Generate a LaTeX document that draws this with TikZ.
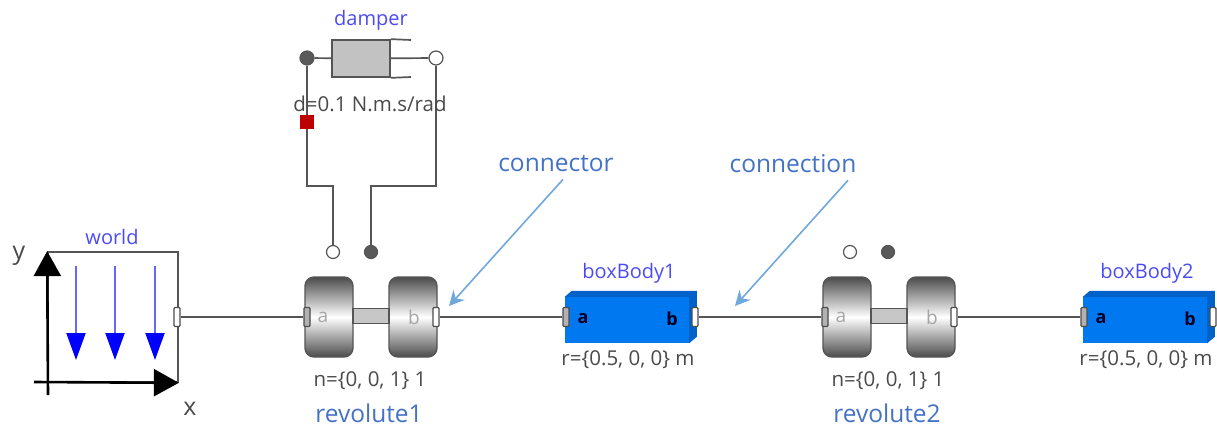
\documentclass[tikz,border=0pt]{standalone}
\usepackage{fontspec}
\setmainfont{Open Sans}
\usetikzlibrary{arrows.meta}
\definecolor{wiregray}{HTML}{555555}
\definecolor{wheelgray}{HTML}{4C4C4C}
\definecolor{namepurple}{HTML}{4B4BF5}
\definecolor{noteblue}{HTML}{4472C4}
\definecolor{calloutblue}{HTML}{6FA8DC}
\definecolor{paramgray}{HTML}{4A4A4A}
\definecolor{bodyblue}{HTML}{0078F0}
\definecolor{bodydark}{HTML}{0062C8}
\tikzstyle{wire} = [draw=wiregray, line width=1.7pt]
\tikzstyle{axis} = [black, line width=2.6pt, -{Triangle[length=25pt,width=27pt]}]
\tikzstyle{gravity} = [namepurple!85!white, line width=2pt, -{Triangle[length=27pt,width=19pt,color=blue,fill=blue]}]
\tikzstyle{callout} = [calloutblue, line width=1.6pt, -{Stealth[length=15pt,width=15pt]}]
\tikzstyle{wheel} = [rectangle, rounded corners=9pt, minimum width=48pt, minimum height=80pt, inner sep=0pt,
draw=wiregray, line width=1.4pt,
top color=wheelgray, bottom color=wheelgray, middle color=white]
\tikzstyle{shaft} = [rectangle, minimum width=36pt, minimum height=15pt, inner sep=0pt,
draw=wiregray, line width=1.4pt, fill=black!22]
\tikzstyle{porta} = [rectangle, rounded corners=1pt, minimum width=6pt, minimum height=19pt, inner sep=0pt,
draw=black!70, line width=1.2pt, fill=black!30]
\tikzstyle{portb} = [porta, fill=white]
\tikzstyle{pinfilled} = [circle, minimum size=13pt, inner sep=0pt, draw=wiregray, line width=1.2pt, fill=black!65]
\tikzstyle{pinopen} = [pinfilled, fill=white]
\tikzstyle{boxbody} = [rectangle, minimum width=124pt, minimum height=46pt, inner sep=0pt, fill=bodyblue]
\tikzstyle{boxshade} = [fill=bodydark]
\tikzstyle{instname} = [namepurple, font=\fontsize{20}{22}\selectfont, inner sep=1pt]
\tikzstyle{param} = [paramgray, font=\fontsize{20.5}{22}\selectfont, inner sep=1pt]
\tikzstyle{note} = [noteblue, font=\fontsize{24.5}{27}\selectfont, inner sep=1pt]
\tikzstyle{letter} = [black!35, font=\fontsize{19}{22}\selectfont, inner sep=0pt]
\tikzstyle{bodyletter} = [letter, black!85!blue, font=\fontsize{18}{22}\selectfont\bfseries]
\begin{document}
\begin{tikzpicture}[x=1pt, y=-1pt, node distance=129pt]
        \useasboundingbox (0,0) rectangle (1217,428);
        % world
        \node (worldbox) [rectangle, wire, minimum width=130pt, minimum height=130pt, inner sep=0pt] at (113,317) {};
        \node (worldname) [instname] at (112,237) {world};
        \coordinate (yfoot) at (48,395);
        \coordinate (xfoot) at (34,382);
        \draw [axis] (yfoot) -- (worldbox.north west);
        \draw [axis] (xfoot) -- (worldbox.south east);
        \node (ylabel) [paramgray, font=\fontsize{25}{27}\selectfont, inner sep=0pt] at (19,256) {y};
        \node (xlabel) [paramgray, font=\fontsize{25}{27}\selectfont, inner sep=0pt] at (190,409) {x};
        \coordinate (gtopa) at (76,266);
        \coordinate (genda) at (76,360);
        \coordinate (gtopb) at (115,266);
        \coordinate (gendb) at (115,360);
        \coordinate (gtopc) at (155,266);
        \coordinate (gendc) at (155,360);
        \draw [gravity] (gtopa) -- (genda);
        \draw [gravity] (gtopb) -- (gendb);
        \draw [gravity] (gtopc) -- (gendc);
        \node (worldport) [portb] at (177,317) {};
        % revolute1
        \node (wheela) [wheel] at (329,317) {};
        \node (wheelb) [wheel, right of=wheela, xshift=-45pt] {};
        \node (shafta) [shaft] at (371,316) {};
        \node (porta) [porta] at (307,317) {};
        \node (portb) [portb, right of=porta] {};
        \node (lettera) [letter] at (323,317) {a};
        \node (letterb) [letter] at (414,317) {b};
        \node (nparama) [param] at (370,381) {n=\{0, 0, 1\} 1};
        \node (revolutea) [note] at (369,413) {revolute1};
        \node (pinopena) [pinopen] at (333,252) {};
        \node (pinfilleda) [pinfilled] at (371,252) {};
        % damper
        \node (cylinder) [rectangle, wire, fill=black!24, minimum width=58pt, minimum height=37pt, inner sep=0pt] at (361,58.5) {};
        \node (dampername) [instname] at (371,20) {damper};
        \node (flangea) [pinfilled, minimum size=14pt] at (307,58) {};
        \node (flangeb) [pinopen, minimum size=14pt] at (436,58) {};
        \coordinate (rimtop) at (411,40);
        \coordinate (rimbot) at (411,77);
        \coordinate (elbowa) at (333,186);
        \coordinate (elbowb) at (371,186);
        \draw [wire] (flangea) -- (cylinder);
        \draw [wire] (cylinder) -- (flangeb);
        \draw [wire] (cylinder.north east) -- (rimtop);
        \draw [wire] (cylinder.south east) -- (rimbot);
        \draw [wire] (flangea) |- (elbowa) -- (pinopena);
        \draw [wire] (flangeb) |- (elbowb) -- (pinfilleda);
        \node (dparam) [param] at (370,104) {d=0.1 N.m.s/rad};
        \node (fixedmark) [rectangle, minimum size=14pt, inner sep=0pt, fill=red!75!black] at (307,122) {};
        % boxBody1
        \node (bodya) [boxbody] at (627,320) {};
        \fill [boxshade] (bodya.north west) -- ++(7,-6) -- ++(125,0) -- ++(0,46) -- (bodya.south east) -- (bodya.north east) -- cycle;
        \node (bodyporta) [porta] at (566,317) {};
        \node (bodyportb) [portb, right of=bodyporta] {};
        \node (bodylettera) [bodyletter] at (583,319) {a};
        \node (bodyletterb) [bodyletter] at (672,319) {b};
        \node (bodynamea) [instname] at (629,273) {boxBody1};
        \node (rparama) [param] at (628,360) {r=\{0.5, 0, 0\} m};
        % revolute2
        \node (wheelc) [wheel] at (847,317) {};
        \node (wheeld) [wheel, right of=wheelc, xshift=-45pt] {};
        \node (shaftb) [shaft] at (889,316) {};
        \node (portc) [porta] at (825,317) {};
        \node (portd) [portb, right of=portc] {};
        \node (letterc) [letter] at (841,317) {a};
        \node (letterd) [letter] at (932,317) {b};
        \node (nparamb) [param] at (888,381) {n=\{0, 0, 1\} 1};
        \node (revoluteb) [note] at (887,413) {revolute2};
        \node (pinopenb) [pinopen] at (850,252) {};
        \node (pinfilledb) [pinfilled] at (888,252) {};
        % boxBody2
        \node (bodyb) [boxbody] at (1145,320) {};
        \fill [boxshade] (bodyb.north west) -- ++(7,-6) -- ++(125,0) -- ++(0,46) -- (bodyb.south east) -- (bodyb.north east) -- cycle;
        \node (bodyportc) [porta] at (1084,317) {};
        \node (bodyportd) [portb, right of=bodyportc] {};
        \node (bodyletterc) [bodyletter] at (1101,319) {a};
        \node (bodyletterd) [bodyletter] at (1190,319) {b};
        \node (bodynameb) [instname] at (1147,273) {boxBody2};
        \node (rparamb) [param] at (1146,360) {r=\{0.5, 0, 0\} m};
        % connections
        \draw [wire] (worldport) -- (porta);
        \draw [wire] (portb) -- (bodyporta);
        \draw [wire] (bodyportb) -- (portc);
        \draw [wire] (portd) -- (bodyportc);
        % notes
        \node (connector) [note] at (556,164) {connector};
        \node (connection) [note] at (793,164) {connection};
        \coordinate (connectortip) at (449,306);
        \coordinate (connectiontip) at (735,306);
        \draw [callout] ([xshift=7pt,yshift=-6pt]connector.south) -- (connectortip);
        \draw [callout] ([xshift=55pt,yshift=-6pt]connection.south) -- (connectiontip);
\end{tikzpicture}
\end{document}
